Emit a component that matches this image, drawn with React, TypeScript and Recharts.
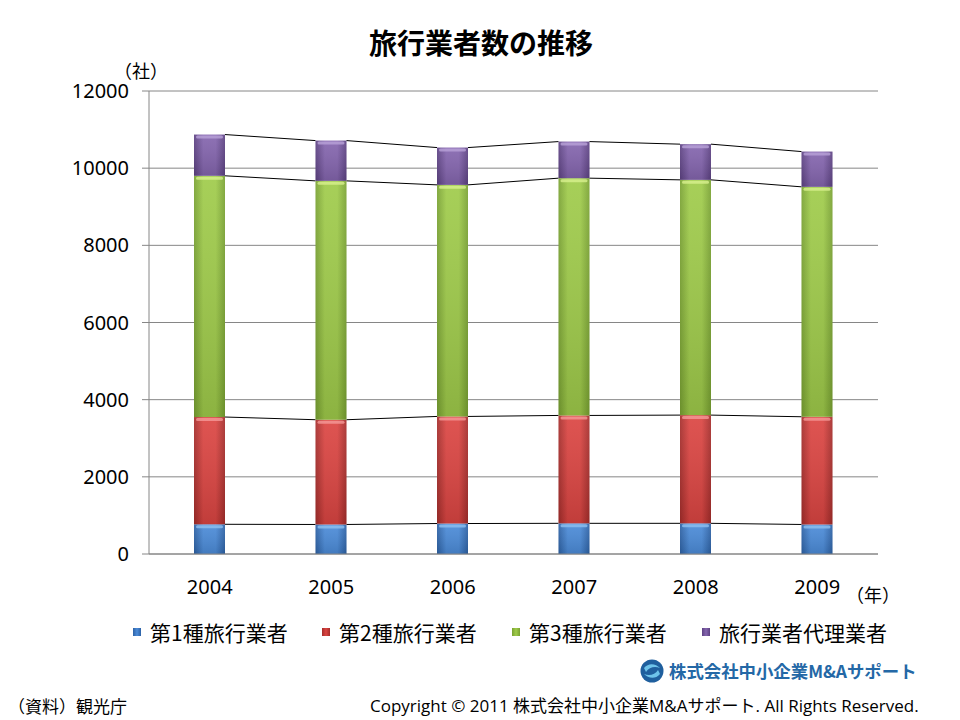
import { BarChart, Bar, XAxis, YAxis, CartesianGrid } from "recharts"

const years = ["2004", "2005", "2006", "2007", "2008", "2009"]
const class1 = [770, 765, 790, 795, 795, 765]
const class2 = [2780, 2715, 2775, 2796, 2805, 2792]
const class3 = [6252, 6191, 6002, 6150, 6097, 5959]
const agents = [1069, 1044, 967, 948, 925, 914]
const yTicks = [0, 2000, 4000, 6000, 8000, 10000, 12000]

const seriesNames = ["第1種旅行業者", "第2種旅行業者", "第3種旅行業者", "旅行業者代理業者"]
const seriesValues = [class1, class2, class3, agents]
const seriesKeys = ["c1", "c2", "c3", "ag"]
const colors = [
  { edge: "#2d62a6", mid: "#4b8bd8", top: "#8fc0f0" },
  { edge: "#a52d2b", mid: "#db4542", top: "#f59a98" },
  { edge: "#79a232", mid: "#9fcb4a", top: "#d8f08e" },
  { edge: "#5d4283", mid: "#8465ae", top: "#b9a2d8" },
]

const W = 960
const H = 720
const margin = { top: 91, right: 82, bottom: 0, left: 0 }
const yAxisWidth = 149
const plotWidth = W - margin.left - margin.right - yAxisWidth
const band = plotWidth / years.length

const data = years.map((year, i) => ({
  year,
  c1: class1[i],
  c2: class2[i],
  c3: class3[i],
  ag: agents[i],
}))

// cumulative top of each segment, per series
const cumTops = seriesValues.map((_, s) =>
  years.map((_, i) => seriesValues.slice(0, s + 1).reduce((sum, arr) => sum + arr[i], 0))
)

const numFont = "'Noto Sans', 'Noto Sans CJK JP', sans-serif"
const jpFont = "'Noto Sans CJK JP', sans-serif"

function makeShape(s: number) {
  return (props: any) => {
    const { x, y, width, height, index } = props
    if (!height || height <= 0) return <g />
    const k = height / seriesValues[s][index]
    const last = index >= years.length - 1
    const yNext = last ? 0 : y + (cumTops[s][index] - cumTops[s][index + 1]) * k
    return (
      <g>
        <rect x={x} y={y} width={width} height={height} fill={`url(#hg${s})`} />
        <rect x={x} y={y} width={width} height={height} fill="url(#vshade)" />
        <rect x={x + 2} y={y + 1} width={width - 4} height={3} rx={1.5} fill={colors[s].top} opacity={0.8} />
        {!last && (
          <line x1={x + width} y1={y} x2={x + band} y2={yNext} stroke="#000" strokeWidth={1} />
        )}
      </g>
    )
  }
}

function LegendRow() {
  const pos = [133, 322, 512, 702]
  return (
    <>
      {seriesNames.map((name, s) => (
        <div
          key={name}
          style={{
            position: "absolute",
            left: pos[s],
            top: 619,
            display: "flex",
            alignItems: "center",
            fontFamily: jpFont,
            fontSize: 21,
            lineHeight: "26px",
            color: "#000",
            whiteSpace: "nowrap",
          }}
        >
          <span
            style={{
              display: "inline-block",
              width: 8,
              height: 8,
              marginRight: 9,
              background: `linear-gradient(to right, ${colors[s].edge}, ${colors[s].mid}, ${colors[s].edge})`,
            }}
          />
          {name}
        </div>
      ))}
    </>
  )
}

export default function App() {
  return (
    <div style={{ position: "absolute", left: 0, top: 0, width: W, height: H, background: "#fff", overflow: "hidden" }}>
      <div
        style={{
          position: "absolute",
          left: 0,
          width: 962,
          top: 27,
          textAlign: "center",
          fontFamily: jpFont,
          fontWeight: 700,
          fontSize: 28,
          lineHeight: "30px",
        }}
      >
        旅行業者数の推移
      </div>
      <div style={{ position: "absolute", left: 114, top: 59, fontFamily: jpFont, fontSize: 18, lineHeight: "22px" }}>
        （社）
      </div>
      <div style={{ position: "absolute", left: 846, top: 583, fontFamily: jpFont, fontSize: 18, lineHeight: "22px" }}>
        （年）
      </div>

      <BarChart width={W} height={H} data={data} margin={margin} barSize={31}>
        <defs>
          {colors.map((c, s) => (
            <linearGradient key={s} id={`hg${s}`} x1="0" y1="0" x2="1" y2="0">
              <stop offset="0%" stopColor={c.edge} />
              <stop offset="30%" stopColor={c.mid} />
              <stop offset="70%" stopColor={c.mid} />
              <stop offset="100%" stopColor={c.edge} />
            </linearGradient>
          ))}
          <linearGradient id="vshade" x1="0" y1="0" x2="0" y2="1">
            <stop offset="0%" stopColor="#fff" stopOpacity={0.08} />
            <stop offset="100%" stopColor="#000" stopOpacity={0.12} />
          </linearGradient>
        </defs>
        <CartesianGrid vertical={false} stroke="#868686" />
        <XAxis
          dataKey="year"
          height={H - 554}
          tickLine={false}
          axisLine={{ stroke: "#868686" }}
          tickMargin={20}
          tick={{ fontSize: 20, fill: "#000", fontFamily: numFont }}
        />
        <YAxis
          width={yAxisWidth}
          domain={[0, 12000]}
          ticks={yTicks}
          interval={0}
          tickSize={7}
          tickMargin={13}
          tickLine={{ stroke: "#868686" }}
          axisLine={{ stroke: "#868686" }}
          tick={{ fontSize: 20, fill: "#000", fontFamily: numFont }}
        />
        {seriesKeys.map((key, s) => (
          <Bar
            key={key}
            dataKey={key}
            name={seriesNames[s]}
            stackId="a"
            shape={makeShape(s)}
            isAnimationActive={false}
          />
        ))}
      </BarChart>

      <LegendRow />

      <div style={{ position: "absolute", left: 640, top: 659, display: "flex", alignItems: "center" }}>
        <svg width={24} height={24} viewBox="0 0 24 24" style={{ marginRight: 5 }}>
          <circle cx={12} cy={12} r={11.5} fill="#1f5f9e" />
          <path d="M4 9 C 9 3, 16 5, 20 9 C 15 7, 9 8, 6 13 Z" fill="#6ec3ea" />
          <path d="M20 15 C 15 21, 8 19, 4 15 C 9 17, 15 16, 18 11 Z" fill="#6ec3ea" />
        </svg>
        <span style={{ fontFamily: jpFont, fontWeight: 700, fontSize: 17.4, color: "#2468a6", lineHeight: "24px" }}>
          株式会社中小企業M&amp;Aサポート
        </span>
      </div>

      <div style={{ position: "absolute", left: 8, top: 695, fontFamily: jpFont, fontSize: 17, lineHeight: "22px" }}>
        （資料）観光庁
      </div>
      <div
        style={{
          position: "absolute",
          left: 370,
          top: 695,
          fontFamily: "'Open Sans', 'Noto Sans CJK JP', sans-serif",
          fontSize: 17,
          lineHeight: "22px",
          whiteSpace: "nowrap",
        }}
      >
        Copyright © 2011 株式会社中小企業M&amp;Aサポート. All Rights Reserved.
      </div>
    </div>
  )
}
